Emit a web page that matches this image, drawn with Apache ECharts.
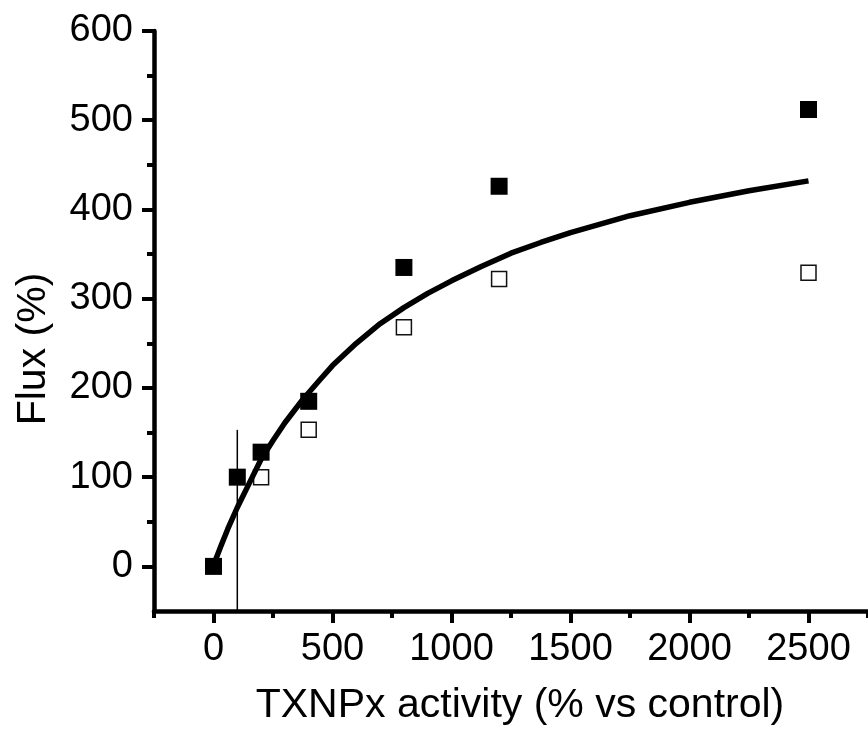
<!DOCTYPE html>
<html>
<head>
<meta charset="utf-8">
<script src="https://cdn.jsdelivr.net/npm/echarts@6/dist/echarts.min.js"></script>
<style>
  html, body { margin: 0; padding: 0; background: #fff; }
  #chart { width: 868px; height: 732px; }
</style>
</head>
<body>
<div id="chart"></div>
<script>
// ---- data ----
const filledX = [0, 100, 200, 400, 800, 1200, 2500];
const filledY = [0, 100, 128, 185, 335, 426, 512];
const openX = [200, 400, 800, 1200, 2500];
const openY = [100, 153, 268, 322, 329];
const fitX = [8, 30, 60, 100, 150, 200, 250, 300, 375, 450, 500, 600, 700, 800, 900, 1000, 1125, 1250, 1375, 1500, 1750, 2000, 2250, 2500];
const fitY = [7, 22, 42, 66, 93, 120, 141, 161, 187, 210, 225, 250, 272, 290, 306, 320, 336, 351, 363, 374, 393, 408, 421, 432];
const barX = [100, 100];
const barY = [-50, 153];
const xMajorTicks = [0, 500, 1000, 1500, 2000, 2500];
const xMinorTicks = [-250, 250, 750, 1250, 1750, 2250, 2750];
const yMajorTicks = [0, 100, 200, 300, 400, 500, 600];
const yMinorTicks = [50, 150, 250, 350, 450, 550];
const xTitle = 'TXNPx activity (% vs control)';
const yTitle = 'Flux (%)';

const zip = (a, b) => a.map((v, i) => [v, b[i]]);
const FONT = '"Liberation Sans", Arial, sans-serif';
const plain = v => String(v);

const chart = echarts.init(document.getElementById('chart'), null, { renderer: 'canvas' });
chart.setOption({
  animation: false,
  backgroundColor: '#ffffff',
  grid: { left: 154, right: -4, top: 31, bottom: 121, containLabel: false },
  xAxis: [
    {
      type: 'value', min: -250, max: 2750, position: 'bottom',
      name: xTitle, nameLocation: 'middle', nameGap: 74,
      nameTextStyle: { fontFamily: FONT, fontSize: 41, color: '#000', padding: [0, 0, 0, 18] },
      axisLine: { show: true, onZero: false, lineStyle: { color: '#000', width: 4.5 } },
      axisTick: { show: true, inside: false, length: 12, customValues: xMajorTicks, lineStyle: { color: '#000', width: 4 } },
      axisLabel: { show: true, customValues: xMajorTicks, formatter: plain, margin: 20, fontFamily: FONT, fontSize: 38, color: '#000' },
      splitLine: { show: false }
    },
    {
      type: 'value', min: -250, max: 2750, position: 'bottom',
      axisLine: { show: false, onZero: false },
      axisTick: { show: true, inside: false, length: 7, customValues: xMinorTicks, lineStyle: { color: '#000', width: 4 } },
      axisLabel: { show: false },
      splitLine: { show: false }
    }
  ],
  yAxis: [
    {
      type: 'value', min: -50, max: 600, position: 'left',
      name: yTitle, nameLocation: 'middle', nameGap: 100, nameRotate: 90,
      nameTextStyle: { fontFamily: FONT, fontSize: 41, color: '#000', padding: [0, 56, 0, 0] },
      axisLine: { show: true, onZero: false, lineStyle: { color: '#000', width: 4.5 } },
      axisTick: { show: true, inside: false, length: 12, customValues: yMajorTicks, lineStyle: { color: '#000', width: 4 } },
      axisLabel: { show: true, customValues: yMajorTicks, formatter: plain, margin: 21, fontFamily: FONT, fontSize: 38, color: '#000' },
      splitLine: { show: false }
    },
    {
      type: 'value', min: -50, max: 600, position: 'left',
      axisLine: { show: false, onZero: false },
      axisTick: { show: true, inside: false, length: 7, customValues: yMinorTicks, lineStyle: { color: '#000', width: 4 } },
      axisLabel: { show: false },
      splitLine: { show: false }
    }
  ],
  series: [
    {
      type: 'line', data: zip(barX, barY), symbol: 'none',
      lineStyle: { color: '#000', width: 1.5 }, z: 2, clip: false
    },
    {
      type: 'scatter', data: zip(openX, openY), symbol: 'rect', symbolSize: 15,
      itemStyle: { color: '#fff', borderColor: '#111', borderWidth: 1.5, opacity: 1 }, z: 3
    },
    {
      type: 'scatter', data: zip(filledX, filledY), symbol: 'rect', symbolSize: 17,
      itemStyle: { color: '#000', opacity: 1 }, z: 3
    },
    {
      type: 'line', data: zip(fitX, fitY), symbol: 'none', smooth: false,
      lineStyle: { color: '#000', width: 5.5, cap: 'butt', join: 'round' }, z: 4
    }
  ]
});
</script>
</body>
</html>
